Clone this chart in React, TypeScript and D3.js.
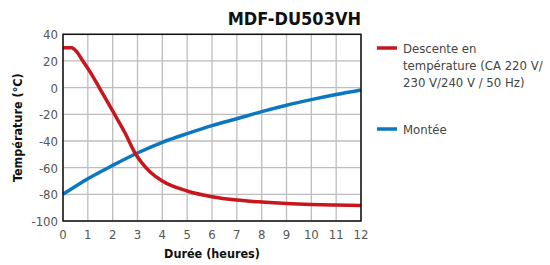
import React, { useEffect, useRef } from "react";
import * as d3 from "d3";

const hours = [0, 1, 2, 3, 4, 5, 6, 7, 8, 9, 10, 11, 12];
const tempTicks = [40, 20, 0, -20, -40, -60, -80, -100];

// Descente en température
const downX = [0, 0.35, 0.55, 0.8, 1.2, 1.6, 2, 2.5, 2.9, 3.2, 3.5, 4, 5, 6, 7, 8, 9, 10, 11, 12];
const downY = [30, 30, 27, 20, 8.5, -4.5, -17.5, -34, -49, -57, -63, -70, -77.5, -81.8, -84.3, -85.8, -86.9, -87.6, -88, -88.3];

// Montée
const upX = [0, 1, 2, 3, 4, 5, 6, 7, 8, 9, 10, 11, 12];
const upY = [-80, -68.3, -58.3, -49, -41, -34.5, -28.5, -23.3, -18, -13.2, -9, -5.2, -1.8];

const App = () => {
  const ref = useRef<SVGSVGElement>(null);

  useEffect(() => {
    const svg = d3.select(ref.current);
    svg.selectAll("*").remove();

    const left = 63;
    const right = 361;
    const top = 34.3;
    const bottom = 221;
    const font = "'DejaVu Sans Condensed', 'DejaVu Sans', sans-serif";

    const x = d3.scaleLinear().domain([0, 12]).range([left, right]);
    const y = d3.scaleLinear().domain([-100, 40]).range([bottom, top]);

    // grid
    const grid = svg.append("g").attr("stroke", "#bdbdbd").attr("stroke-width", 1.3);
    grid.selectAll("line.v")
      .data(hours)
      .join("line")
      .attr("x1", d => x(d)).attr("x2", d => x(d))
      .attr("y1", top).attr("y2", bottom);
    grid.selectAll("line.h")
      .data(tempTicks)
      .join("line")
      .attr("x1", left).attr("x2", right)
      .attr("y1", d => y(d)).attr("y2", d => y(d));

    // curves
    const line = d3.line<[number, number]>()
      .x(d => x(d[0]))
      .y(d => y(d[1]))
      .curve(d3.curveMonotoneX);

    svg.append("path")
      .datum(upX.map((v, i) => [v, upY[i]] as [number, number]))
      .attr("fill", "none")
      .attr("stroke", "#0a77c0")
      .attr("stroke-width", 3.5)
      .attr("d", line);

    svg.append("path")
      .datum(downX.map((v, i) => [v, downY[i]] as [number, number]))
      .attr("fill", "none")
      .attr("stroke", "#c8161d")
      .attr("stroke-width", 3.5)
      .attr("d", line);

    // frame
    svg.append("rect")
      .attr("x", left).attr("y", top)
      .attr("width", right - left).attr("height", bottom - top)
      .attr("fill", "none")
      .attr("stroke", "#111")
      .attr("stroke-width", 1.5);

    // tick labels
    svg.append("g")
      .selectAll("text")
      .data(tempTicks)
      .join("text")
      .attr("x", left - 5)
      .attr("y", d => y(d) + 5)
      .attr("text-anchor", "end")
      .attr("font-family", font)
      .attr("font-size", 13)
      .attr("fill", "#555")
      .text(d => d);

    svg.append("g")
      .selectAll("text")
      .data(hours)
      .join("text")
      .attr("x", d => x(d))
      .attr("y", bottom + 18)
      .attr("text-anchor", "middle")
      .attr("font-family", font)
      .attr("font-size", 13)
      .attr("fill", "#555")
      .text(d => d);

    // titles
    svg.append("text")
      .attr("x", right)
      .attr("y", 25)
      .attr("text-anchor", "end")
      .attr("font-family", font)
      .attr("font-weight", "bold")
      .attr("font-size", 18)
      .attr("fill", "#111")
      .text("MDF-DU503VH");

    svg.append("text")
      .attr("transform", `translate(22,${(top + bottom) / 2}) rotate(-90)`)
      .attr("text-anchor", "middle")
      .attr("font-family", font)
      .attr("font-weight", "bold")
      .attr("font-size", 12.5)
      .attr("fill", "#111")
      .text("Température (°C)");

    svg.append("text")
      .attr("x", (left + right) / 2)
      .attr("y", 258)
      .attr("text-anchor", "middle")
      .attr("font-family", font)
      .attr("font-weight", "bold")
      .attr("font-size", 12.5)
      .attr("fill", "#111")
      .text("Durée (heures)");

    // legend
    const legend = [
      { color: "#c8161d", y: 48, lines: ["Descente en", "température (CA 220 V/", "230 V/240 V / 50 Hz)"] },
      { color: "#0a77c0", y: 129, lines: ["Montée"] },
    ];
    const lg = svg.append("g").selectAll("g").data(legend).join("g");
    lg.append("line")
      .attr("x1", 377).attr("x2", 397)
      .attr("y1", d => d.y).attr("y2", d => d.y)
      .attr("stroke", d => d.color)
      .attr("stroke-width", 3.5);
    lg.each(function (d) {
      d3.select(this).selectAll("text")
        .data(d.lines)
        .join("text")
        .attr("x", 403)
        .attr("y", (_, i) => d.y + 5 + i * 17)
        .attr("font-family", font)
        .attr("font-size", 13)
        .attr("fill", "#444")
        .text(t => t);
    });
  }, []);

  return (
    <svg
      ref={ref}
      width={550}
      height={265}
      style={{ position: "absolute", left: 0, top: 0, background: "#fff" }}
    />
  );
};

export default App;
